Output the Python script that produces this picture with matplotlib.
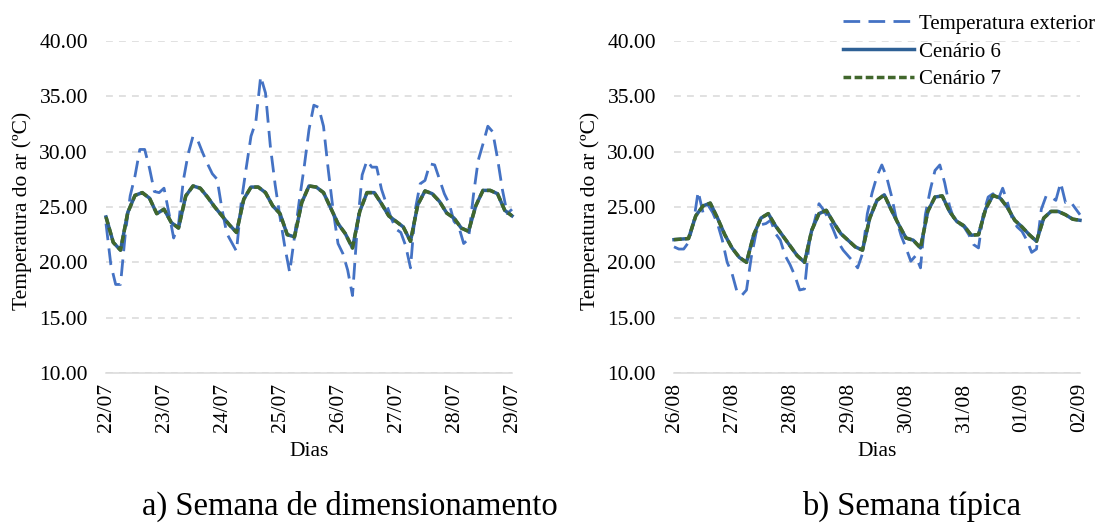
## Temperatura do ar - semana de dimensionamento e semana tipica
import matplotlib
matplotlib.use('Agg')
import matplotlib.pyplot as plt

plt.rcParams['font.family'] = ['Liberation Serif', 'DejaVu Serif']

## horas (cenarios de 3 em 3 horas, exterior de 2 em 2 horas)
horas_3h = list(range(0, 169, 3))
horas_2h = list(range(0, 169, 2))

dias_a = ["22/07", "23/07", "24/07", "25/07", "26/07", "27/07", "28/07", "29/07"]
dias_b = ["26/08", "27/08", "28/08", "29/08", "30/08", "31/08", "01/09", "02/09"]

## a) Semana de dimensionamento
exterior_a = [23.5, 19.8, 18.0, 18.0, 22.6, 26.0, 27.8, 30.2, 30.2, 28.5, 26.4, 26.3,
              26.7, 24.5, 22.2, 23.4, 27.4, 29.8, 31.4, 31.0, 29.9, 28.9, 28.0, 27.5,
              24.8, 22.6, 21.8, 21.0, 25.5, 28.5, 31.4, 32.7, 36.8, 35.3, 30.5, 27.0,
              24.1, 21.4, 19.1, 22.3, 25.6, 28.6, 32.0, 34.2, 34.0, 32.3, 28.3, 24.7,
              21.7, 20.8, 19.3, 17.0, 23.2, 27.9, 29.2, 28.6, 28.6, 26.6, 25.3, 24.0,
              23.0, 22.7, 21.5, 19.5, 24.8, 27.1, 27.4, 28.9, 28.8, 27.5, 26.2, 25.3,
              23.7, 23.2, 21.7, 22.1, 26.0, 29.2, 30.7, 32.3, 31.8, 29.4, 26.6, 24.4,
              24.8]
cenario6_a = [24.1, 21.8, 21.1, 24.5, 26.05, 26.3, 25.8, 24.4,
              24.8, 23.6, 23.1, 26.0, 26.9, 26.7, 25.9, 25.0,
              24.2, 23.4, 22.7, 25.7, 26.8, 26.8, 26.3, 25.1,
              24.4, 22.5, 22.3, 25.4, 26.9, 26.8, 26.3, 24.9,
              23.5, 22.6, 21.3, 24.6, 26.3, 26.3, 25.3, 24.2,
              23.7, 23.2, 21.9, 25.2, 26.45, 26.2, 25.5, 24.45,
              24.0, 23.1, 22.8, 25.1, 26.5, 26.5, 26.2, 24.7,
              24.2]
cenario7_a = [24.1, 21.8, 21.1, 24.5, 26.05, 26.3, 25.8, 24.4,
              24.8, 23.6, 23.1, 26.0, 26.9, 26.7, 25.9, 25.0,
              24.2, 23.4, 22.7, 25.7, 26.8, 26.8, 26.3, 25.1,
              24.4, 22.5, 22.3, 25.4, 26.9, 26.8, 26.3, 24.9,
              23.5, 22.6, 21.3, 24.6, 26.3, 26.3, 25.3, 24.2,
              23.7, 23.2, 21.9, 25.2, 26.45, 26.2, 25.5, 24.45,
              24.0, 23.1, 22.8, 25.1, 26.5, 26.5, 26.2, 24.7,
              24.2]

## b) Semana tipica
exterior_b = [21.4, 21.2, 21.2, 21.8, 23.5, 26.4, 24.5, 25.2, 24.5, 23.5, 22.0, 20.0,
              19.0, 17.4, 17.0, 17.5, 20.5, 22.7, 23.4, 23.5, 23.8, 22.6, 22.0, 20.6,
              19.8, 18.8, 17.5, 17.6, 21.9, 23.6, 25.3, 24.7, 23.9, 22.9, 21.8, 21.1,
              20.6, 20.1, 19.5, 20.8, 24.4, 26.3, 27.8, 28.8, 27.7, 26.0, 23.9, 22.4,
              21.3, 20.1, 20.6, 19.5, 24.3, 26.5, 28.3, 28.8, 27.2, 25.1, 23.8, 23.5,
              23.2, 22.5, 21.6, 21.3, 24.4, 25.9, 26.2, 25.6, 26.7, 25.4, 23.9, 23.2,
              22.8, 22.0, 20.9, 21.2, 24.8, 26.0, 25.9, 25.6, 27.2, 25.4, 25.5, 24.9,
              24.3]
cenario6_b = [22.05, 22.1, 22.15, 24.2, 25.1, 25.35, 24.0, 22.5,
              21.3, 20.45, 20.0, 22.5, 24.0, 24.4, 23.3, 22.4,
              21.5, 20.6, 20.0, 22.9, 24.4, 24.7, 23.6, 22.6,
              22.0, 21.4, 21.1, 24.0, 25.6, 26.1, 24.7, 23.4,
              22.2, 22.0, 21.3, 24.6, 25.9, 26.0, 24.6, 23.7,
              23.3, 22.45, 22.5, 24.85, 26.05, 25.8, 24.95, 23.8,
              23.2, 22.5, 21.9, 24.0, 24.6, 24.6, 24.3, 23.9,
              23.8]
cenario7_b = [22.05, 22.1, 22.15, 24.2, 25.1, 25.35, 24.0, 22.5,
              21.3, 20.45, 20.0, 22.5, 24.0, 24.4, 23.3, 22.4,
              21.5, 20.6, 20.0, 22.9, 24.4, 24.7, 23.6, 22.6,
              22.0, 21.4, 21.1, 24.0, 25.6, 26.1, 24.7, 23.4,
              22.2, 22.0, 21.3, 24.6, 25.9, 26.0, 24.6, 23.7,
              23.3, 22.45, 22.5, 24.85, 26.05, 25.8, 24.95, 23.8,
              23.2, 22.5, 21.9, 24.0, 24.6, 24.6, 24.3, 23.9,
              23.8]

azul = '#4472C4'
azul_esc = '#2E6095'
verde = '#41672C'
cinza = '#D9D9D9'
fs = 15.5

fig = plt.figure(figsize=(11.02, 5.23), dpi=100)
W, H = 1102.0, 523.0


def grafico(x0, exterior, c6, c7, dias):
    ax = fig.add_axes([x0 / W, 1 - 373 / H, 406 / W, 332 / H])
    ax.plot(horas_2h, exterior, color=azul, lw=2.0, ls=(0, (6, 3)),
            label='Temperatura exterior', clip_on=False, zorder=3)
    ax.plot(horas_3h, c6, color=azul_esc, lw=2.5, label='Cenário 6',
            clip_on=False, zorder=4)
    ax.plot(horas_3h, c7, color=verde, lw=2.5, ls=(0, (2.2, 1.0)),
            label='Cenário 7', clip_on=False, zorder=5)
    ax.set_xlim(0, 168)
    ax.set_ylim(10, 40)
    ax.set_yticks([10, 15, 20, 25, 30, 35, 40])
    ax.set_yticklabels(['%.2f' % v for v in [10, 15, 20, 25, 30, 35, 40]])
    ax.set_xticks(range(0, 169, 24))
    ax.set_xticklabels(dias, rotation=90)
    ax.tick_params(length=0, labelsize=fs, colors='#000000')
    ax.tick_params(axis='y', pad=13)
    ax.tick_params(axis='x', pad=7)
    ax.grid(axis='y', color=cinza, lw=1.1, ls=(0, (4.5, 4)))
    ax.grid(axis='x', visible=False)
    for s in ['top', 'right', 'left']:
        ax.spines[s].set_visible(False)
    ax.spines['bottom'].set_color(cinza)
    ax.spines['bottom'].set_linewidth(1.1)
    ax.set_axisbelow(True)
    ## legenda do eixo y e do eixo x
    fig.text((x0 - 84) / W, 1 - 211 / H, 'Temperatura do ar (ºC)', rotation=90,
             ha='center', va='center', fontsize=fs)
    fig.text((x0 + 203) / W, 1 - 452 / H, 'Dias', ha='center', va='center',
             fontsize=fs)
    return ax


ax1 = grafico(106, exterior_a, cenario6_a, cenario7_a, dias_a)
ax2 = grafico(674, exterior_b, cenario6_b, cenario7_b, dias_b)

## titulos por baixo
fig.text(350 / W, 1 - 506 / H, 'a) Semana de dimensionamento', ha='center',
         va='center', fontsize=23.5)
fig.text(912 / W, 1 - 506 / H, 'b) Semana típica', ha='center',
         va='center', fontsize=23.5)

h, l = ax2.get_legend_handles_labels()
fig.legend(h, l, loc='upper left', bbox_to_anchor=(843 / W, 1 - 14 / H),
           frameon=False, borderpad=0, handlelength=3.4, handletextpad=0.25,
           labelspacing=0.4, fontsize=15, borderaxespad=0)

fig.savefig('out.png', dpi=100)
